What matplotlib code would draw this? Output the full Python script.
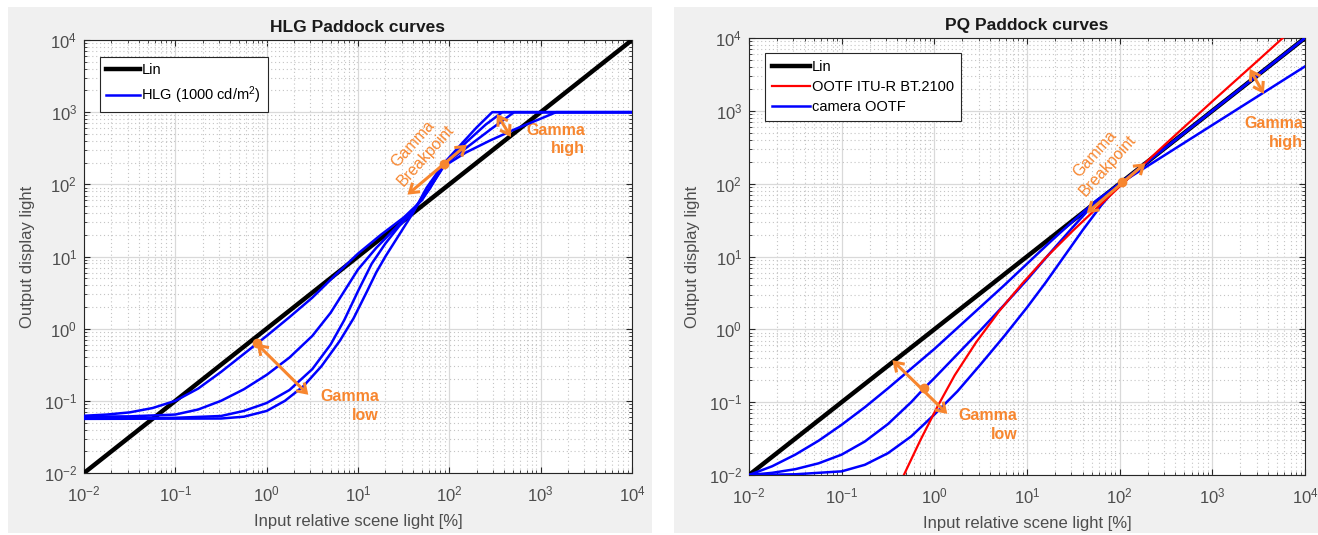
import numpy as np
import matplotlib
matplotlib.use("Agg")
import matplotlib.pyplot as plt
from matplotlib.patches import Rectangle, FancyArrowPatch
from matplotlib.ticker import LogLocator, NullFormatter

plt.rcParams['font.family'] = ['Liberation Sans', 'DejaVu Sans']
plt.rcParams['mathtext.fontset'] = 'custom'
plt.rcParams['mathtext.rm'] = 'Liberation Sans'
plt.rcParams['mathtext.it'] = 'Liberation Sans:italic'
plt.rcParams['mathtext.bf'] = 'Liberation Sans:bold'

# values below are log10 of (input %, output cd/m2)
lin_lx = [-2, 4]
lin_ly = [-2, 4]

# HLG paddock curves
hlg_a_lx = [-2.0, -1.75, -1.5, -1.25, -1.0, -0.75, -0.5, -0.25, 0.0, 0.25, 0.5, 0.75, 1.0, 1.25,
            1.5, 1.7, 1.94, 2.18, 2.45, 2.73, 3.0, 3.17, 4.0]
hlg_a_ly = [-1.207, -1.19, -1.16, -1.10, -1.0, -0.83, -0.60, -0.35, -0.10, 0.16, 0.43, 0.74, 1.04, 1.30,
            1.54, 1.78, 2.25, 2.44, 2.61, 2.77, 2.91, 3.0, 3.0]

hlg_b_lx = [-2.0, -1.5, -1.0, -0.75, -0.5, -0.25, 0.0, 0.25, 0.5, 0.7, 0.85, 1.0, 1.2, 1.4, 1.6,
            1.78, 1.94, 2.2, 2.45, 2.71, 4.0]
hlg_b_ly = [-1.22, -1.215, -1.19, -1.12, -1.0, -0.84, -0.64, -0.40, -0.10, 0.22, 0.52, 0.82, 1.12, 1.38, 1.64,
            1.93, 2.27, 2.52, 2.76, 3.0, 3.0]

hlg_c_lx = [-2.0, -1.0, -0.5, -0.25, 0.0, 0.25, 0.5, 0.7, 0.85, 1.0, 1.15, 1.3, 1.45, 1.6, 1.78,
            1.94, 2.2, 2.4, 2.58, 4.0]
hlg_c_ly = [-1.24, -1.235, -1.21, -1.14, -1.03, -0.85, -0.56, -0.22, 0.12, 0.52, 0.90, 1.18, 1.42, 1.62, 1.95,
            2.29, 2.60, 2.83, 3.0, 3.0]

hlg_d_lx = [-2.0, -0.5, -0.25, 0.0, 0.2, 0.4, 0.6, 0.8, 0.95, 1.1, 1.2, 1.3, 1.45, 1.6, 1.75,
            1.94, 2.14, 2.3, 2.47, 4.0]
hlg_d_ly = [-1.25, -1.245, -1.22, -1.14, -1.0, -0.80, -0.52, -0.17, 0.14, 0.52, 0.78, 1.0, 1.3, 1.6, 1.95,
            2.29, 2.57, 2.79, 3.0, 3.0]

# PQ paddock curves
ootf_lx = [-0.329, -0.15, 0.03, 0.22, 0.45, 0.7, 0.95, 1.2, 1.5, 2.0, 2.5, 3.0, 3.5, 3.76]
ootf_ly = [-2.0, -1.52, -1.07, -0.63, -0.18, 0.25, 0.63, 0.98, 1.36, 1.96, 2.55, 3.13, 3.70, 4.0]

cam_u_lx = [-2.0, -1.75, -1.5, -1.25, -1.0, -0.75, -0.5, -0.25, 0.0, 0.25, 0.5, 0.75, 1.0, 1.25,
            1.5, 1.75, 2.0, 4.0]
cam_u_ly = [-2.0, -1.88, -1.72, -1.53, -1.31, -1.07, -0.81, -0.54, -0.27, 0.02, 0.31, 0.60, 0.90, 1.20,
            1.49, 1.77, 2.0, 4.0]

cam_m_lx = [-2.0, -1.75, -1.5, -1.25, -1.0, -0.75, -0.5, -0.25, -0.111, 0.0, 0.25, 0.5, 0.75, 1.0,
            1.25, 1.5, 1.75, 2.0, 4.0]
cam_m_ly = [-2.0, -1.97, -1.92, -1.84, -1.72, -1.54, -1.30, -1.00, -0.81, -0.67, -0.34, -0.01, 0.33, 0.68,
            1.05, 1.41, 1.76, 2.0, 4.0]

cam_l_lx = [-2.0, -1.5, -1.0, -0.75, -0.5, -0.25, 0.0, 0.25, 0.5, 0.75, 1.0, 1.2, 1.4, 1.6, 1.8, 2.0, 4.0]
cam_l_ly = [-2.0, -1.99, -1.95, -1.86, -1.70, -1.47, -1.17, -0.85, -0.48, -0.10, 0.30, 0.64, 1.0, 1.36,
            1.70, 2.0, 3.61]

ticks = [1e-2, 1e-1, 1e0, 1e1, 1e2, 1e3, 1e4]
tick_labels = ['$10^{-2}$', '$10^{-1}$', '$10^{0}$', '$10^{1}$', '$10^{2}$', '$10^{3}$', '$10^{4}$']

ORANGE = '#f7862f'
BLUE = '#0000ff'
TXT = '#4d4d4d'


def p10(v):
    return np.power(10.0, v)


fig = plt.figure(figsize=(13.18, 5.35), dpi=100, facecolor='white')
W, H = 1318, 535
fig.patches.append(Rectangle((8 / W, 1 - 533 / H), 644 / W, 526 / H, transform=fig.transFigure,
                             facecolor='#f0f0f0', edgecolor='none', zorder=-10))
fig.patches.append(Rectangle((674 / W, 1 - 533 / H), 644 / W, 526 / H, transform=fig.transFigure,
                             facecolor='#f0f0f0', edgecolor='none', zorder=-10))

ax1 = fig.add_axes([84 / W, 1 - 473 / H, 548 / W, 433 / H])
ax2 = fig.add_axes([749 / W, 1 - 475 / H, 556 / W, 437 / H])


def style(ax, title):
    ax.set_xscale('log')
    ax.set_yscale('log')
    ax.set_xlim(1e-2, 1e4)
    ax.set_ylim(1e-2, 1e4)
    ax.set_xticks(ticks)
    ax.set_xticklabels(tick_labels)
    ax.set_yticks(ticks)
    ax.set_yticklabels(tick_labels)
    ax.xaxis.set_minor_locator(LogLocator(base=10, subs=np.arange(2, 10), numticks=20))
    ax.yaxis.set_minor_locator(LogLocator(base=10, subs=np.arange(2, 10), numticks=20))
    ax.xaxis.set_minor_formatter(NullFormatter())
    ax.yaxis.set_minor_formatter(NullFormatter())
    ax.grid(True, which='major', color='#d9d9d9', lw=0.9, ls='-')
    ax.grid(True, which='minor', color='#c4c4c4', lw=0.8, ls=(0, (1, 2.5)))
    ax.set_axisbelow(True)
    ax.tick_params(which='both', direction='in', top=True, right=True, colors='#262626',
                   labelcolor=TXT, labelsize=12)
    ax.tick_params(axis='x', which='major', pad=8)
    ax.tick_params(axis='y', which='major', pad=5)
    ax.tick_params(which='major', length=4)
    ax.tick_params(which='minor', length=2)
    for s in ax.spines.values():
        s.set_color('#262626')
        s.set_linewidth(0.8)
    ax.set_title(title, fontsize=12.5, fontweight='bold', color='#1a1a1a', pad=6)
    ax.set_xlabel('Input relative scene light [%]', fontsize=12, color=TXT, labelpad=7)
    ax.set_ylabel('Output display light', fontsize=12, color=TXT, labelpad=6)


def arrow2(ax, p0, p1):
    ax.add_patch(FancyArrowPatch(p0, p1, arrowstyle='<->,head_length=0.45,head_width=0.3',
                                 color=ORANGE, lw=2.2, mutation_scale=14, zorder=6,
                                 joinstyle='miter', capstyle='butt'))


# ---- left: HLG ----
style(ax1, 'HLG Paddock curves')
ax1.plot(p10(lin_lx), p10(lin_ly), color='black', lw=3.2, label='Lin', zorder=3)
ax1.plot(p10(hlg_a_lx), p10(hlg_a_ly), color=BLUE, lw=1.8, label='HLG (1000 cd/m$^2$)', zorder=4)
ax1.plot(p10(hlg_b_lx), p10(hlg_b_ly), color=BLUE, lw=1.8, zorder=4)
ax1.plot(p10(hlg_c_lx), p10(hlg_c_ly), color=BLUE, lw=1.8, zorder=4)
ax1.plot(p10(hlg_d_lx), p10(hlg_d_ly), color=BLUE, lw=1.8, zorder=4)
leg1 = ax1.legend(loc='upper left', bbox_to_anchor=(0.029, 0.961), borderaxespad=0,
                  fancybox=False, framealpha=1, edgecolor='#262626', fontsize=10.5,
                  handlelength=2.3, handletextpad=0.1, borderpad=0.45, labelspacing=0.45)
leg1.get_frame().set_linewidth(0.8)

arrow2(ax1, (0.74, 0.66), (3.0, 0.114))
ax1.plot([0.78], [0.63], 'o', color=ORANGE, ms=6, zorder=7)
ax1.text(17, 0.085, 'Gamma\nlow', color=ORANGE, fontsize=11.5, fontweight='bold',
         ha='right', va='center', linespacing=1.3)

arrow2(ax1, (33, 68), (164, 375))
ax1.plot([87], [194], 'o', color=ORANGE, ms=6, zorder=7)
ax1.text(47, 300, 'Gamma\nBreakpoint', color=ORANGE, fontsize=11.5, rotation=48,
         ha='center', va='center', linespacing=1.2)

arrow2(ax1, (320, 1020), (490, 420))
ax1.text(3060, 420, 'Gamma\nhigh', color=ORANGE, fontsize=11.5, fontweight='bold',
         ha='right', va='center', linespacing=1.3)

# ---- right: PQ ----
style(ax2, 'PQ Paddock curves')
ax2.plot(p10(lin_lx), p10(lin_ly), color='black', lw=3.2, label='Lin', zorder=3)
ax2.plot(p10(ootf_lx), p10(ootf_ly), color='#ff0000', lw=1.6, label='OOTF ITU-R BT.2100', zorder=5)
ax2.plot(p10(cam_u_lx), p10(cam_u_ly), color=BLUE, lw=1.8, label='camera OOTF', zorder=4)
ax2.plot(p10(cam_m_lx), p10(cam_m_ly), color=BLUE, lw=1.8, zorder=4)
ax2.plot(p10(cam_l_lx), p10(cam_l_ly), color=BLUE, lw=1.8, zorder=4)
leg2 = ax2.legend(loc='upper left', bbox_to_anchor=(0.029, 0.966), borderaxespad=0,
                  fancybox=False, framealpha=1, edgecolor='#262626', fontsize=10.5,
                  handlelength=2.6, handletextpad=0.1, borderpad=0.5, labelspacing=0.4)
leg2.get_frame().set_linewidth(0.8)

arrow2(ax2, (0.336, 0.40), (1.45, 0.065))
ax2.plot([0.774], [0.156], 'o', color=ORANGE, ms=6, zorder=7)
ax2.text(7.9, 0.049, 'Gamma\nlow', color=ORANGE, fontsize=11.5, fontweight='bold',
         ha='right', va='center', linespacing=1.3)

arrow2(ax2, (41.9, 37.4), (200, 202))
ax2.plot([107], [107], 'o', color=ORANGE, ms=6, zorder=7)
ax2.text(63, 215, 'Gamma\nBreakpoint', color=ORANGE, fontsize=11.5, rotation=48,
         ha='center', va='center', linespacing=1.2)

arrow2(ax2, (2450, 4070), (3720, 1585))
ax2.text(9500, 500, 'Gamma\nhigh', color=ORANGE, fontsize=11.5, fontweight='bold',
         ha='right', va='center', linespacing=1.3)

fig.savefig('out.png', dpi=100, facecolor=fig.get_facecolor())
